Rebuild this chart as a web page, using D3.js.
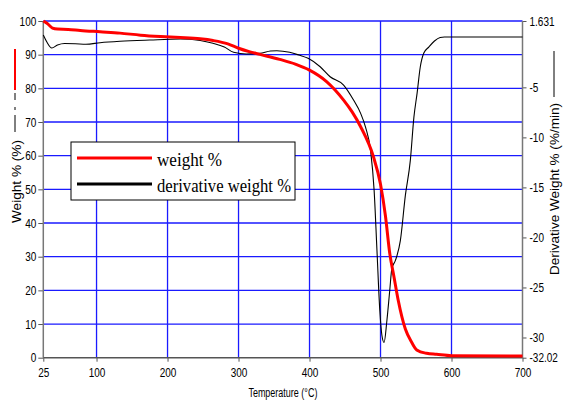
<!DOCTYPE html>
<html>
<head>
<meta charset="utf-8">
<script src="https://cdn.jsdelivr.net/npm/d3@7"></script>
<style>
  body { margin: 0; background: #fff; }
  .tick-label { font-family: "Liberation Sans", Arial, sans-serif; font-size: 12.5px; fill: #000; }
  .axis-title { font-family: "Liberation Sans", Arial, sans-serif; font-size: 12.5px; fill: #000; }
  .legend-text { font-family: "Liberation Serif", "Times New Roman", serif; font-size: 19px; fill: #000; }
</style>
</head>
<body>
<div id="chart"></div>
<script>
// TGA curve: weight % and derivative weight % against temperature

var weightTemp = [25, 28, 32, 38, 45, 60, 77, 105, 133, 162, 190, 218, 246, 264, 285, 300, 315, 330, 358, 380, 400, 424, 448, 460, 472, 490, 500, 507, 513, 519, 525, 535, 544, 551, 565, 579, 600, 700];
var weightPct  = [100, 99.6, 99.0, 97.9, 97.6, 97.5, 97.2, 96.8, 96.4, 95.8, 95.4, 95.1, 94.7, 94.2, 93.2, 91.9, 90.9, 90.1, 88.6, 87.2, 85.4, 82.0, 76.5, 73, 68.6, 59.7, 51.5, 42, 31, 24, 17, 8.5, 4.5, 2.3, 1.3, 1.0, 0.6, 0.5];

var derivTemp = [25, 30, 37, 45, 55, 70, 85, 105, 133, 175, 218, 246, 264, 280, 293, 311, 330, 345, 354, 372, 385, 398, 415, 429, 448, 462, 472, 479, 486, 491, 495, 499, 502, 505, 509, 513, 516, 521, 528, 535, 542, 547, 551.5, 556, 561, 568, 576, 584, 590, 700];
var derivRate = [0.23, -0.47, -1.07, -0.77, -0.62, -0.64, -0.69, -0.54, -0.40, -0.27, -0.17, -0.32, -0.6, -0.97, -1.5, -1.67, -1.6, -1.37, -1.34, -1.5, -1.77, -2.1, -2.94, -3.94, -4.77, -6.27, -7.6, -9.0, -11.3, -15.3, -21.3, -27.3, -29.8, -30.5, -28.3, -25.3, -23.1, -22.3, -20.3, -15.8, -12.3, -8.0, -5.6, -2.97, -1.57, -0.97, -0.37, -0.02, 0.03, 0.03];

var xTicks = [25, 100, 200, 300, 400, 500, 600, 700];
var xGrid = [100, 200, 300, 400, 500, 600];
var leftTicks = [0, 10, 20, 30, 40, 50, 60, 70, 80, 90, 100];
var rightTicks = [1.631, -5, -10, -15, -20, -25, -30, -32.02];

var legendNames = ["weight %", "derivative weight %"];
var legendColors = ["#ff0000", "#000000"];

var width = 567, height = 401;
var plotLeft = 43.3, plotRight = 522.5, plotTop = 21, plotBottom = 357.7;

var svg = d3.select("#chart").append("svg")
    .attr("width", width)
    .attr("height", height);

var x = d3.scaleLinear().domain([25, 700]).range([plotLeft, plotRight]);
var yLeft = d3.scaleLinear().domain([0, 100]).range([plotBottom, plotTop]);
var yRight = d3.scaleLinear().domain([-32.02, 1.631]).range([plotBottom, plotTop]);

//// GRID ///////////////////////////////////////////////////////////////////////
svg.append("g").selectAll("line").data(leftTicks.filter(function(d) { return d > 0; }))
    .enter().append("line")
    .attr("x1", plotLeft).attr("x2", plotRight)
    .attr("y1", function(d) { return yLeft(d); })
    .attr("y2", function(d) { return yLeft(d); })
    .attr("stroke", "#1a1aff").attr("stroke-width", 1.3);

svg.append("g").selectAll("line").data(xGrid)
    .enter().append("line")
    .attr("x1", function(d) { return x(d); })
    .attr("x2", function(d) { return x(d); })
    .attr("y1", plotTop).attr("y2", plotBottom)
    .attr("stroke", "#1a1aff").attr("stroke-width", 1.3);

//// AXES ///////////////////////////////////////////////////////////////////////
var leftAxis = d3.axisLeft(yLeft).tickValues(leftTicks).tickSize(5).tickPadding(2)
    .tickFormat(d3.format("d"));
var rightAxis = d3.axisRight(yRight).tickValues(rightTicks).tickSize(4).tickPadding(3)
    .tickFormat(function(d) { return String(d); });
var bottomAxis = d3.axisBottom(x).tickValues(xTicks).tickSize(4).tickPadding(6)
    .tickFormat(d3.format("d"));

// The original uses a narrow sans; squeeze the labels to ~82% width.
function narrow(sel, factor) {
    sel.each(function() {
        var w = this.getComputedTextLength();
        d3.select(this).attr("textLength", w * factor).attr("lengthAdjust", "spacingAndGlyphs");
    });
}

function styleAxis(g) {
    g.select(".domain").remove();
    g.selectAll(".tick line").attr("stroke", "#555");
    g.selectAll(".tick text").attr("class", "tick-label").attr("fill", "#000")
        .attr("font-size", null).attr("font-family", null);
    g.attr("font-size", null).attr("font-family", null);
    narrow(g.selectAll(".tick text"), 0.8);
}

svg.append("g").attr("transform", "translate(" + plotLeft + ",0)")
    .call(leftAxis).call(styleAxis);
svg.append("g").attr("transform", "translate(" + plotRight + ",0)")
    .call(rightAxis).call(styleAxis);
svg.append("g").attr("transform", "translate(0," + plotBottom + ")")
    .call(bottomAxis).call(styleAxis);

// plain axis lines
svg.append("line").attr("x1", plotLeft).attr("x2", plotLeft).attr("y1", plotTop).attr("y2", plotBottom)
    .attr("stroke", "#777").attr("stroke-width", 1.5);
svg.append("line").attr("x1", plotRight).attr("x2", plotRight).attr("y1", plotTop).attr("y2", plotBottom)
    .attr("stroke", "#777").attr("stroke-width", 1.5);
svg.append("line").attr("x1", plotLeft).attr("x2", plotRight).attr("y1", plotBottom).attr("y2", plotBottom)
    .attr("stroke", "#555").attr("stroke-width", 1.5);

//// TITLES /////////////////////////////////////////////////////////////////////
svg.append("text").attr("class", "axis-title")
    .attr("x", (plotLeft + plotRight) / 2).attr("y", 397)
    .attr("text-anchor", "middle")
    .attr("textLength", 69).attr("lengthAdjust", "spacingAndGlyphs")
    .text("Temperature (°C)");

svg.append("text").attr("class", "axis-title")
    .attr("transform", "translate(20.5,181.5) rotate(-90)")
    .attr("text-anchor", "middle")
    .attr("textLength", 83).attr("lengthAdjust", "spacingAndGlyphs")
    .text("Weight % (%)");
svg.append("line").attr("x1", 15).attr("x2", 15).attr("y1", 49).attr("y2", 90)
    .attr("stroke", "#ff0000").attr("stroke-width", 2);
svg.append("line").attr("x1", 15).attr("x2", 15).attr("y1", 93).attr("y2", 132)
    .attr("stroke", "#000").attr("stroke-width", 1)
    .attr("stroke-dasharray", "7,7,3,5,17");

svg.append("text").attr("class", "axis-title")
    .attr("transform", "translate(559,189) rotate(-90)")
    .attr("text-anchor", "middle")
    .attr("textLength", 172).attr("lengthAdjust", "spacingAndGlyphs")
    .text("Derivative Weight % (%/min)");
svg.append("line").attr("x1", 554).attr("x2", 554).attr("y1", 51).attr("y2", 97)
    .attr("stroke", "#000").attr("stroke-width", 1);

//// SERIES /////////////////////////////////////////////////////////////////////
var derivLine = d3.line()
    .x(function(d, i) { return x(derivTemp[i]); })
    .y(function(d) { return yRight(d); })
    .curve(d3.curveMonotoneX);

var weightLine = d3.line()
    .x(function(d, i) { return x(weightTemp[i]); })
    .y(function(d) { return yLeft(d); })
    .curve(d3.curveMonotoneX);

svg.append("path").datum(derivRate)
    .attr("d", derivLine)
    .attr("fill", "none").attr("stroke", "#000").attr("stroke-width", 1.1);

svg.append("path").datum(weightPct)
    .attr("d", weightLine)
    .attr("fill", "none").attr("stroke", "#ff0000").attr("stroke-width", 3);

//// LEGEND /////////////////////////////////////////////////////////////////////
var legend = svg.append("g").attr("transform", "translate(71,142)");
legend.append("rect").attr("width", 224).attr("height", 58)
    .attr("fill", "#fff").attr("stroke", "#000").attr("stroke-width", 1);

var rows = legend.selectAll("g.row").data(legendNames).enter().append("g")
    .attr("transform", function(d, i) { return "translate(0," + (16 + i * 26) + ")"; });
rows.append("line").attr("x1", 6).attr("x2", 81).attr("y1", 0).attr("y2", 0)
    .attr("stroke", function(d, i) { return legendColors[i]; })
    .attr("stroke-width", 3);
rows.append("text").attr("class", "legend-text")
    .attr("x", 86).attr("y", 7.5)
    .attr("textLength", function(d, i) { return i === 0 ? 65 : 134; })
    .attr("lengthAdjust", "spacingAndGlyphs")
    .text(function(d) { return d; });
</script>
</body>
</html>
